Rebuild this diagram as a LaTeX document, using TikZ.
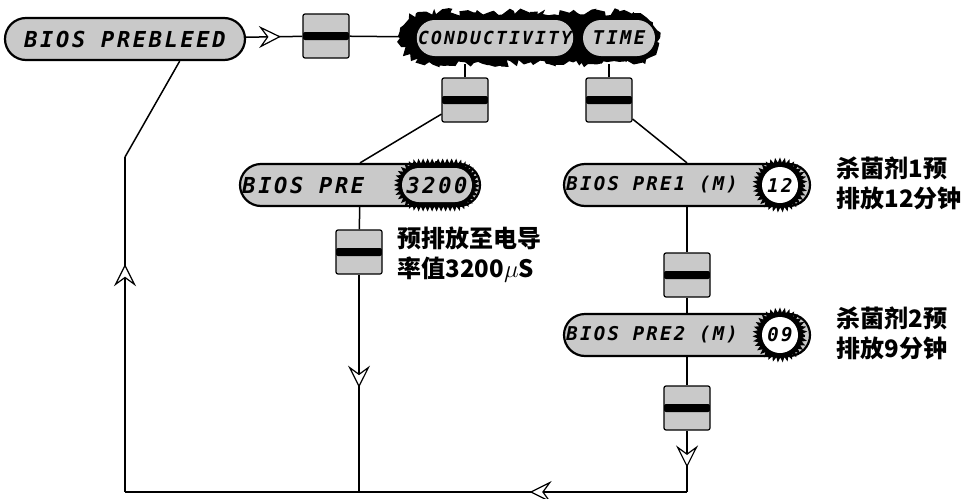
\documentclass[tikz,border=0pt]{standalone}
\usepackage{fontspec}
\usepackage{tikz}
\usetikzlibrary{calc,shapes.misc,decorations.pathmorphing,decorations.markings,arrows.meta}
\newfontfamily\lcd[LetterSpace=12]{DejaVu Sans Mono}
\newfontfamily\cjk{Noto Sans CJK SC}
\definecolor{dots}{HTML}{C9C9C9}

\begin{document}
\begin{tikzpicture}
    [x=1pt, y=-1pt,
     wire/.style={line width=1.5pt, color=black},
     pill/.style={rounded rectangle, draw, line width=2.2pt, fill=dots, minimum height=42pt, inner sep=0pt},
     lcdtext/.style={font=\lcd\bfseries\itshape\fontsize{#1}{#1}\selectfont},
     lcdtext/.default=21,
     switchbox/.style={draw, line width=1.2pt, fill=dots, rounded corners=2pt, minimum width=46pt, minimum height=44pt,
       path picture={\fill[black] ($(path picture bounding box.west)+(0,-4pt)$) rectangle ($(path picture bounding box.east)+(0,4pt)$);}},
     gear/.style={fill=black, decorate, decoration={zigzag, segment length=4.5pt, amplitude=2.5pt}},
     spiky/.style={fill=black, decorate, decoration={random steps, segment length=4pt, amplitude=4pt}},
     midarrow/.style={postaction={decorate, decoration={markings, mark=at position #1 with
       {\arrow{Stealth[length=22pt, width=22pt, inset=8pt, open, fill=white, line width=1.2pt]}}}}},
     note/.style={font=\cjk\bfseries\fontsize{24}{30}\selectfont, align=left, anchor=west}
    ]
\useasboundingbox (0,0) rectangle (977,498);

%top row
\node[pill, minimum width=240pt, lcdtext=22] (bleed) at (125,39) {BIOS PREBLEED};
\node[switchbox] (sw1) at (326,36) {};
\node[rounded rectangle, spiky, minimum width=266pt, minimum height=52pt] (cond) at (530,38) {};
\node[rounded rectangle, fill=dots, minimum width=152pt, minimum height=36pt, inner sep=0pt, lcdtext=18] (condtxt) at (495,38) {CONDUCTIVITY};
\node[rounded rectangle, fill=dots, minimum width=72pt, minimum height=36pt, inner sep=0pt, lcdtext=19] (time) at (619,38) {TIME};

%second row
\node[switchbox] (sw2) at (465,100) {};
\node[switchbox] (sw3) at (609,100) {};
\node[pill, minimum width=240pt, label={[lcdtext=22, anchor=west]west:BIOS PRE}] (pre) at (360,185) {};
\node[rounded rectangle, gear, minimum width=88pt, minimum height=48pt] (g1) at (437,185) {};
\node[rounded rectangle, fill=dots, minimum width=70pt, minimum height=34pt, inner sep=0pt, lcdtext=22] (v1) at (437,185) {3200};
\node[pill, minimum width=246pt, label={[lcdtext=19, anchor=west]west:BIOS PRE1 (M)}] (pre1) at (687,185) {};
\node[circle, gear, minimum size=50pt] (g2) at (780,185) {};
\node[circle, fill=white, minimum size=36pt, inner sep=0pt, lcdtext=19] (v2) at (780,185) {12};
\node[note] (n1) at (833,183) {杀菌剂1预\\排放12分钟};

%lower part
\node[switchbox] (sw6) at (359,252) {};
\node[note] (n0) at (394,255) {预排放至电导\\率值3200$\mu$S};
\node[switchbox] (sw4) at (687,275) {};
\node[pill, minimum width=246pt, label={[lcdtext=19, anchor=west]west:BIOS PRE2 (M)}] (pre2) at (687,335) {};
\node[circle, gear, minimum size=50pt] (g3) at (780,335) {};
\node[circle, fill=white, minimum size=36pt, inner sep=0pt, lcdtext=19] (v3) at (780,335) {09};
\node[note] (n2) at (833,333) {杀菌剂2预\\排放9分钟};
\node[switchbox] (sw5) at (687,408) {};

\coordinate (c1) at (687,492);
\coordinate (c2) at (125,492);
\coordinate (c3) at (125,157);
\coordinate (m) at (sw6 |- c1);

%connectors
\draw[wire, midarrow=0.62] (bleed) -- (sw1);
\draw[wire] (sw1) -- (cond);
\draw[wire] (sw2) -- (sw2 |- cond.south);
\draw[wire] (sw3) -- (sw3 |- cond.south);
\draw[wire] (sw2) -- (pre.north);
\draw[wire] (sw3) -- (pre1.north);
\draw[wire] (pre1) -- (sw4);
\draw[wire] (sw4) -- (pre2);
\draw[wire] (pre2) -- (sw5);
\draw[wire, midarrow=0.6] (sw5) -- (c1);
\draw[wire, midarrow=0.28] (c1) -- (c2);
\draw[wire, midarrow=0.68] (c2) -- (c3);
\draw[wire] (c3) -- (bleed.-22);
\draw[wire] (pre) -- (sw6);
\draw[wire, midarrow=0.52] (sw6) -- (m);

\end{tikzpicture}
\end{document}
